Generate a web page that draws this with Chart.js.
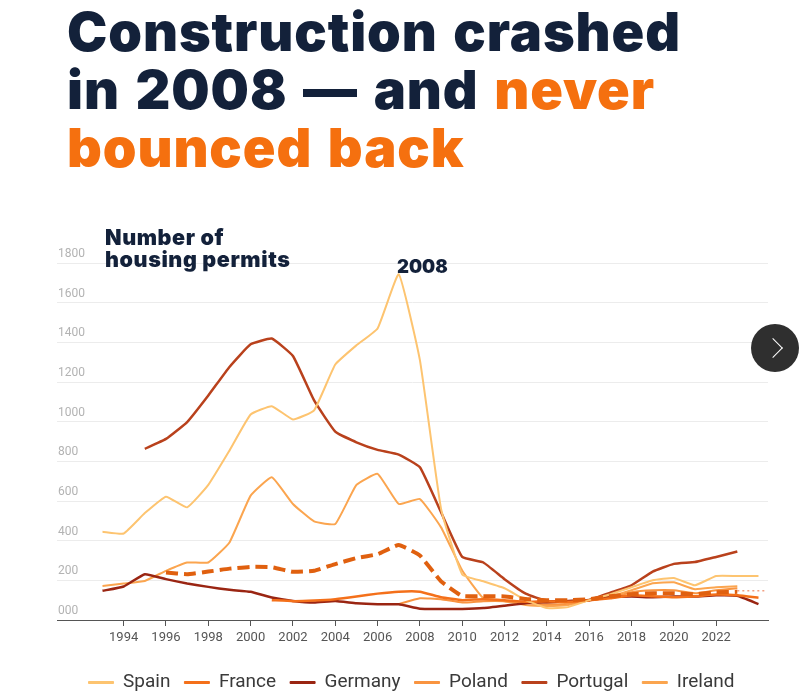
<!DOCTYPE html>
<html>
<head>
<meta charset="utf-8">
<script src="https://cdn.jsdelivr.net/npm/chart.js@4.4.1/dist/chart.umd.min.js"></script>
<style>
    html, body { margin: 0; padding: 0; background: #fff; overflow: hidden; width: 809px; height: 694px; }
    #wrap { position: relative; width: 809px; height: 694px; overflow: hidden; }
    #myChart { position: absolute; left: 0; top: 0; width: 809px; height: 702px; }
    .title { position: absolute; left: 67px; top: 3px; font-family: Inter, Lato, sans-serif; font-weight: 900;
             font-size: 54px; line-height: 58px; color: #13213a; letter-spacing: 0.9px; word-spacing: 4px;
             font-variant-ligatures: none; white-space: nowrap; }
    .title .hl { color: #f5700f; }
    .axisTitle { position: absolute; left: 105px; top: 227px; font-family: Inter, Lato, sans-serif; font-weight: 900;
                 font-size: 21.5px; line-height: 21.7px; color: #13213a; letter-spacing: 0.6px; white-space: nowrap; }
    .peak { position: absolute; left: 397px; top: 255px; font-family: Inter, Lato, sans-serif; font-weight: 900;
            font-size: 18.5px; line-height: 22px; color: #13213a; }
    .next { position: absolute; left: 751px; top: 324px; width: 48px; height: 48px; border-radius: 50%;
            background: #2f2f2f; }
    .next::after { content: ""; position: absolute; left: 15px; top: 17px; width: 13px; height: 13px;
                   border-top: 1.5px solid #fff; border-right: 1.5px solid #fff; transform: rotate(45deg); }
</style>
</head>
<body>
<div id="wrap">
    <canvas id="myChart" width="809" height="702"></canvas>
    <div class="title">Construction crashed<br>in 2008 — and <span class="hl">never</span><br><span class="hl">bounced back</span></div>
    <div class="axisTitle">Number of<br>housing permits</div>
    <div class="peak">2008</div>
    <div class="next"></div>
</div>

<script>
// Values (housing permits, index per year)

const years = [1993, 1994, 1995, 1996, 1997, 1998, 1999, 2000, 2001, 2002, 2003, 2004, 2005, 2006, 2007, 2008,
               2009, 2010, 2011, 2012, 2013, 2014, 2015, 2016, 2017, 2018, 2019, 2020, 2021, 2022, 2023, 2024];

const spain    = [445, 436, 539, 622, 568, 681, 854, 1036, 1078, 1011, 1057, 1288, 1385, 1470, 1743, 1310,
                  560, 230, 195, 160, 100, 60, 65, 100, 130, 165, 200, 212, 175, 222, 222, 222];
const france   = [null, null, null, null, null, null, null, null, 100, 95, 98, 105, 118, 133, 143, 143,
                  115, 100, 105, 100, 92, 95, 92, 100, 110, 125, 120, 115, 120, 128, 125, 112];
const germany  = [147, 169, 231, 206, 184, 167, 152, 142, 113, 96, 88, 96, 84, 79, 79, 57,
                  56, 56, 60, 72, 85, 90, 95, 100, 115, 118, 115, 118, 118, 125, 122, 80];
const poland   = [null, null, null, null, null, null, null, null, null, null, null, null, null, null, 80, 110,
                  105, 88, 95, 95, 85, 80, 82, 100, 112, 140, 150, 150, 135, 150, 160, null];
const portugal = [null, null, 863, 913, 998, 1132, 1276, 1390, 1419, 1331, 1107, 950, 896, 858, 834, 770,
                  543, 318, 290, 206, 133, 96, 96, 101, 138, 175, 244, 283, 292, 318, 345, null];
const ireland  = [172, 184, 197, 248, 290, 290, 391, 627, 720, 585, 497, 484, 681, 737, 585, 610,
                  467, 250, 110, 95, 75, 70, 75, 100, 120, 150, 185, 190, 155, 165, 170, null];
const average  = [null, null, null, 239, 231, 244, 259, 268, 266, 243, 248, 282, 312, 332, 378, 325,
                  195, 121, 121, 119, 106, 100, 100, 105, 120, 130, 135, 135, 130, 140, 142, null];

const trendYears = [2023, 2024.4];
const trend      = [147, 147];

const tickYears = [1994, 1996, 1998, 2000, 2002, 2004, 2006, 2008, 2010, 2012, 2014, 2016, 2018, 2020, 2022];

function toPoints(xs, ys)
{
    return xs.map((x, i) => ({ x: x, y: ys[i] }));
}

function line(label, values, color, width, extra)
{
    return Object.assign({
        label: label,
        data: toPoints(years, values),
        borderColor: color,
        backgroundColor: color,
        borderWidth: width,
        pointRadius: 0,
        tension: 0.12,
        fill: false
    }, extra || {});
}

const ctx = document.getElementById('myChart');

new Chart(ctx, {
    type: 'line',
    data: {
        datasets: [
            line('average', average, '#e0600f', 4, { borderDash: [12, 6], order: 0 }),
            {
                label: 'trend',
                data: toPoints(trendYears, trend),
                borderColor: '#f2a083',
                borderWidth: 1.5,
                borderDash: [2, 3],
                pointRadius: 0,
                order: 0
            },
            line('Spain', spain, '#fdc470', 2, { order: 1 }),
            line('France', france, '#f4701a', 2.5, { order: 1 }),
            line('Germany', germany, '#9a2512', 2.5, { order: 1 }),
            line('Poland', poland, '#f99440', 2, { order: 1 }),
            line('Portugal', portugal, '#b9411c', 2.5, { order: 1 }),
            line('Ireland', ireland, '#fba54f', 2, { order: 1 })
        ]
    },
    options: {
        responsive: false,
        maintainAspectRatio: false,
        animation: false,
        layout: {
            padding: { left: 55, right: 41, top: 263, bottom: 0 }
        },
        scales: {
            x: {
                type: 'linear',
                min: 1990.85,
                max: 2024.45,
                afterBuildTicks: axis => { axis.ticks = tickYears.map(v => ({ value: v })); },
                afterFit: axis => { axis.height = 39; },
                grid: { drawOnChartArea: false, drawTicks: true, tickLength: 6, color: '#555' },
                border: { display: true, color: '#555', width: 1 },
                ticks: {
                    padding: 4,
                    color: '#555',
                    font: { family: 'Roboto', size: 13 },
                    callback: v => String(v)
                }
            },
            y: {
                min: 0,
                max: 1800,
                grid: { color: '#ececec', lineWidth: 1, drawTicks: false },
                border: { display: false },
                ticks: {
                    stepSize: 200,
                    mirror: true,
                    padding: 1,
                    labelOffset: -9,
                    color: '#b3b3b3',
                    font: { family: 'Roboto', size: 12 },
                    callback: v => String(v).padStart(3, '0')
                }
            }
        },
        plugins: {
            legend: {
                position: 'bottom',
                labels: {
                    boxWidth: 25,
                    boxHeight: 2,
                    padding: 14,
                    color: '#3a3a3a',
                    font: { family: 'Roboto', size: 19 },
                    filter: item => item.text !== 'average' && item.text !== 'trend',
                    generateLabels: chart => Chart.defaults.plugins.legend.labels.generateLabels(chart).map(item => {
                        item.lineWidth = 1;
                        item.lineDash = [];
                        return item;
                    })
                }
            },
            tooltip: { enabled: false }
        }
    }
});
</script>
</body>
</html>
